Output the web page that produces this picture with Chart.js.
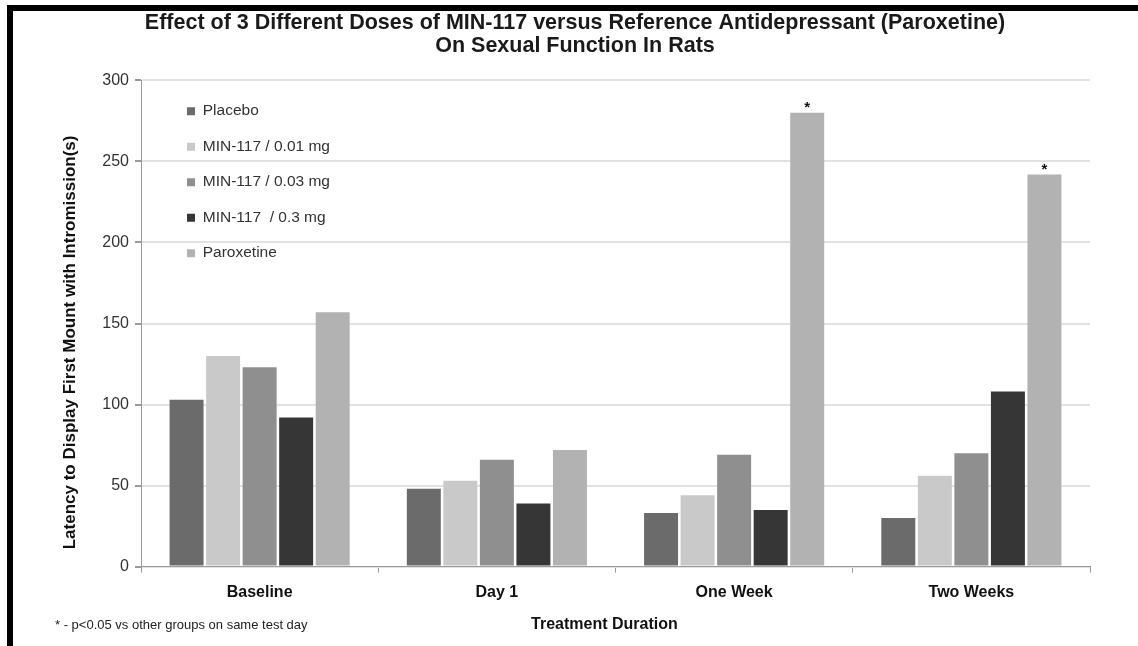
<!DOCTYPE html>
<html>
<head>
<meta charset="utf-8">
<script src="https://cdn.jsdelivr.net/npm/chart.js@4.4.1/dist/chart.umd.min.js"></script>
<style>
  body { margin: 0; background: #fff; }
  #wrap { position: relative; width: 1138px; height: 646px; overflow: hidden; }
  #frame { position: absolute; left: 7px; top: 5px; width: 1200px; height: 635px;
           border-left: 6px solid #000; border-top: 6px solid #000; border-bottom: 2px solid #8a8a8a; }
  #chart { position: absolute; left: 0; top: 0; }
  #note { position: absolute; left: 55px; top: 617px; font: 13px "Liberation Sans Narrow", "Arial Narrow", "Liberation Sans", sans-serif; color: #222; }
</style>
</head>
<body>
<div id="wrap">
  <div id="frame"></div>
  <canvas id="chart" width="1138" height="646"></canvas>
  <div id="note">* - p&lt;0.05 vs other groups on same test day</div>
</div>
<script>
var narrow = '"Liberation Sans Narrow", "Arial Narrow", "Liberation Sans", sans-serif';

var categories = ['Baseline', 'Day 1', 'One Week', 'Two Weeks'];
var seriesNames = ['Placebo', 'MIN-117 / 0.01 mg', 'MIN-117 / 0.03 mg', 'MIN-117  / 0.3 mg', 'Paroxetine'];
var placebo = [103, 48, 33, 30];
var min001 = [130, 53, 44, 56];
var min003 = [123, 66, 69, 70];
var min03 = [92, 39, 35, 108];
var paroxetine = [157, 72, 280, 242];
var significant = [false, false, true, true]; // paroxetine vs other groups
var barColors = ['#6b6b6b', '#c9c9c9', '#8f8f8f', '#363636', '#b2b2b2'];
var yTicks = [0, 50, 100, 150, 200, 250, 300];

var allSeries = [placebo, min001, min003, min03, paroxetine];
var datasets = allSeries.map(function(vals, i) {
  return {
    label: seriesNames[i],
    data: vals,
    backgroundColor: barColors[i],
    borderWidth: 0,
    categoryPercentage: 0.77,
    barPercentage: 0.93
  };
});

// pad titles with trailing spaces to nudge them off-centre like the original
var pad = function(n) { return new Array(n + 1).join('\u00a0'); };

var starPlugin = {
  id: 'stars',
  afterLayout: function(chart) {
    // legend sits inside the plot, a bit in from the axis
    var lg = chart.legend, area = chart.chartArea;
    var w = lg.right - lg.left;
    lg.left = area.left + 26;
    lg.right = lg.left + w;
    var h = lg.bottom - lg.top;
    lg.top = area.top + 3;
    lg.bottom = lg.top + h;
  },
  afterDatasetsDraw: function(chart) {
    var ctx = chart.ctx;
    var meta = chart.getDatasetMeta(4);
    ctx.save();
    ctx.fillStyle = '#111';
    ctx.font = 'bold 15px ' + narrow;
    ctx.textAlign = 'center';
    ctx.textBaseline = 'bottom';
    significant.forEach(function(s, i) {
      if (!s) return;
      var bar = meta.data[i];
      ctx.fillText('*', bar.x, bar.y + 3);
    });
    ctx.restore();
  }
};

new Chart(document.getElementById('chart'), {
  type: 'bar',
  data: { labels: categories, datasets: datasets },
  plugins: [starPlugin],
  options: {
    responsive: false,
    animation: false,
    layout: { padding: { left: 60, right: 48, top: 0, bottom: 12 } },
    plugins: {
      title: {
        display: true,
        text: ['Effect of 3 Different Doses of MIN-117 versus Reference Antidepressant (Paroxetine)', 'On Sexual Function In Rats'],
        color: '#1a1a1a',
        font: { family: narrow, size: 21.5, weight: 'bold', lineHeight: 1.08 },
        padding: { top: 11, bottom: 23 }
      },
      legend: {
        position: 'chartArea',
        align: 'start',
        labels: {
          boxWidth: 8,
          boxHeight: 8,
          padding: 20,
          color: '#333',
          font: { family: narrow, size: 15.5 }
        }
      },
      tooltip: { enabled: false }
    },
    scales: {
      x: {
        grid: { offset: true, drawOnChartArea: false, drawTicks: true, tickLength: 6, tickColor: '#9a9a9a' },
        border: { display: true, color: '#9a9a9a', width: 1 },
        ticks: { color: '#111', padding: 10, font: { family: narrow, size: 16, weight: 'bold' } },
        title: { display: true, text: 'Treatment Duration' + pad(5), color: '#111',
                 font: { family: narrow, size: 16, weight: 'bold' }, padding: { top: 3, bottom: 0 } }
      },
      y: {
        min: 0,
        max: 300,
        afterFit: function(scale) { scale.width = 81; },
        afterBuildTicks: function(scale) { scale.ticks = yTicks.map(function(v) { return { value: v }; }); },
        grid: { color: '#e2e2e2', lineWidth: 2, tickLength: 6, tickColor: '#9a9a9a' },
        border: { display: true, color: '#9a9a9a', width: 1 },
        ticks: { color: '#333', padding: 6, font: { family: narrow, size: 16 } },
        title: { display: true, text: 'Latency to Display First Mount with Intromission(s)' + pad(8), color: '#111',
                 font: { family: narrow, size: 17, weight: 'bold' }, padding: 0 }
      }
    }
  }
});
</script>
</body>
</html>
